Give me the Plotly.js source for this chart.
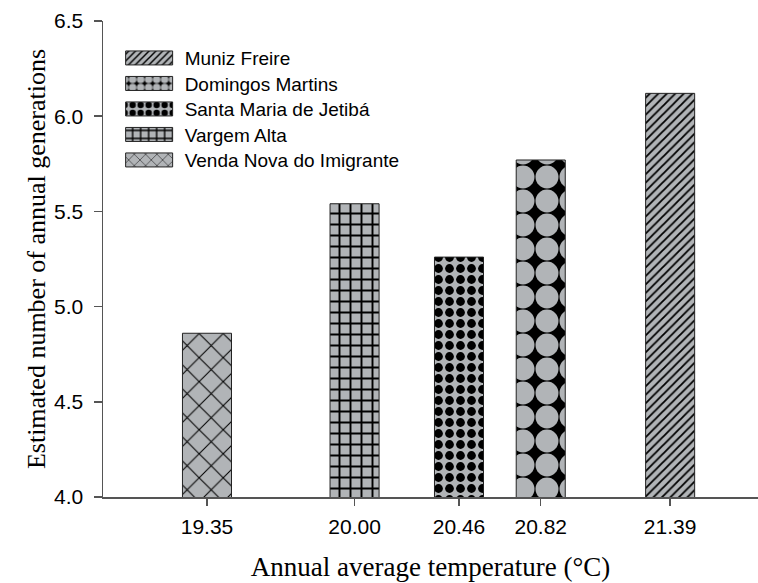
<!DOCTYPE html>
<html>
<head>
<meta charset="utf-8">
<script src="https://cdn.plot.ly/plotly-3.0.1.min.js"></script>
<style>
  html, body { margin: 0; padding: 0; background: #fff; }
  #chart { width: 758px; height: 583px; }
</style>
</head>
<body>
<div id="chart"></div>
<script>
// ---- data ----
const temperatures = [19.35, 20.00, 20.46, 20.82, 21.39];
const tickLabels = ['19.35', '20.00', '20.46', '20.82', '21.39'];
const municipalities = ['Venda Nova do Imigrante', 'Vargem Alta', 'Santa Maria de Jetibá', 'Domingos Martins', 'Muniz Freire'];
const generations = [4.86, 5.54, 5.26, 5.77, 6.12];

// ---- styles (one per municipality) ----
const GRAY = '#b1b4b7';
const patterns = [
  { shape: 'x', fgcolor: '#000', bgcolor: GRAY, size: 17, solidity: 0.12, fillmode: 'replace' },
  { shape: '+', fgcolor: '#000', bgcolor: GRAY, size: 11, solidity: 0.32, fillmode: 'replace' },
  { shape: '.', fgcolor: '#000', bgcolor: GRAY, size: 11, solidity: 0.5, fillmode: 'replace' },
  { shape: '.', fgcolor: GRAY, bgcolor: '#000', size: 24, solidity: 0.72, fillmode: 'replace' },
  { shape: '/', fgcolor: '#000', bgcolor: GRAY, size: 6, solidity: 0.3, fillmode: 'replace' }
];

const traces = municipalities.map((name, i) => ({
  type: 'bar',
  name: name,
  x: [temperatures[i]],
  y: [generations[i]],
  base: 0,
  width: 0.216,
  marker: {
    color: GRAY,
    line: { color: '#222', width: 1 },
    pattern: patterns[i]
  },
  hoverinfo: 'skip'
}));

const layout = {
  width: 758,
  height: 583,
  margin: { l: 103, r: 0, t: 21, b: 86, pad: 0 },
  paper_bgcolor: '#fff',
  plot_bgcolor: '#fff',
  showlegend: true,
  legend: {
    x: 0.0086, y: 0.962, xanchor: 'left', yanchor: 'top',
    traceorder: 'reversed',
    bgcolor: 'rgba(0,0,0,0)',
    borderwidth: 0,
    font: { family: 'Liberation Sans, Arial, sans-serif', size: 19, color: '#000' },
    itemclick: false, itemdoubleclick: false
  },
  xaxis: {
    range: [18.892, 21.777],
    tickvals: temperatures,
    ticktext: tickLabels,
    ticks: 'outside', ticklen: 7, tickwidth: 1.5, tickcolor: '#555',
    ticklabelstandoff: 3,
    showline: true, linecolor: '#555', linewidth: 1.5,
    showgrid: false, zeroline: false,
    tickfont: { family: 'Liberation Sans, Arial, sans-serif', size: 21, color: '#000' },
    title: {
      text: 'Annual average temperature (°C)',
      font: { family: 'Liberation Serif, Times New Roman, serif', size: 27, color: '#000' },
      standoff: 20
    },
    automargin: false
  },
  yaxis: {
    range: [4, 6.5],
    tickvals: [4.0, 4.5, 5.0, 5.5, 6.0, 6.5],
    tickformat: '.1f',
    ticks: 'outside', ticklen: 8, tickwidth: 1.5, tickcolor: '#555',
    ticklabelstandoff: 6,
    showline: true, linecolor: '#555', linewidth: 1.5,
    showgrid: false, zeroline: false,
    tickfont: { family: 'Liberation Sans, Arial, sans-serif', size: 21, color: '#000' },
    title: {
      text: 'Estimated number of annual generations',
      font: { family: 'Liberation Serif, Times New Roman, serif', size: 26, color: '#000' },
      standoff: 1
    },
    automargin: false
  }
};

Plotly.newPlot('chart', traces, layout, { staticPlot: true, displayModeBar: false }).then(gd => {
  // let widened legend entries show fully
  gd.querySelectorAll('.legend .scrollbox').forEach(s => s.removeAttribute('clip-path'));
  // widen legend swatches to match the long rectangular keys of the reference
  const groups = Array.from(gd.querySelectorAll('.legend .traces'));
  const parseT = g => {
    const m = /translate\(\s*([-\d.e]+)[ ,]+([-\d.e]+)\s*\)/.exec(g.getAttribute('transform') || '');
    return m ? [parseFloat(m[1]), parseFloat(m[2])] : [0, 0];
  };
  groups.sort((a, b) => parseT(a)[1] - parseT(b)[1]);
  const y0 = groups.length ? parseT(groups[0])[1] : 0;
  groups.forEach((t, i) => {
    const [tx] = parseT(t);
    t.setAttribute('transform', `translate(${tx},${y0 + i * 25.5})`);
    t.querySelectorAll('.legendpoints path').forEach(p => {
      p.setAttribute('d', 'M-3,7H44V-7H-3Z');
    });
    const txt = t.querySelector('.legendtext');
    const p = t.querySelector('.legendpoints path');
    if (txt && p) {
      const shift = (p.getBoundingClientRect().right + 12) - txt.getBoundingClientRect().left;
      txt.setAttribute('x', String(parseFloat(txt.getAttribute('x') || '0') + shift));
    }
  });
});
</script>
</body>
</html>
